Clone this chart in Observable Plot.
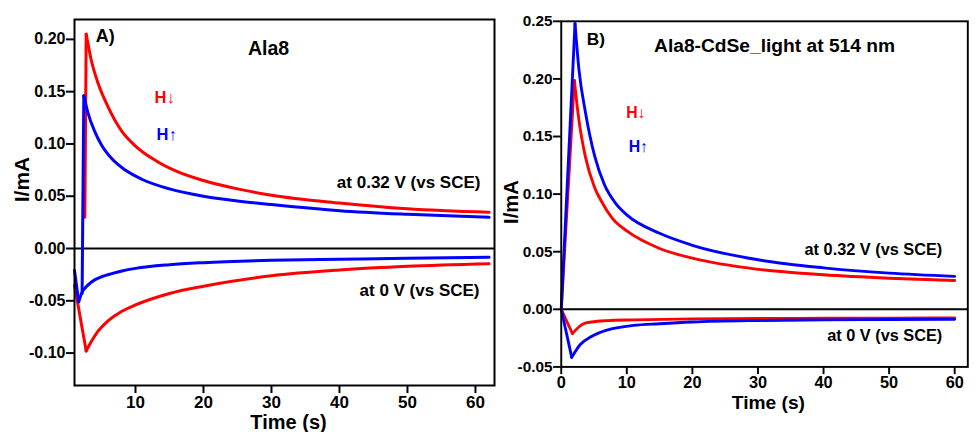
<!DOCTYPE html>
<html><head><meta charset="utf-8">
<script src="https://cdn.jsdelivr.net/npm/d3@7"></script>
<script src="https://cdn.jsdelivr.net/npm/@observablehq/plot@0.6"></script>
<style>
html,body{margin:0;padding:0;background:#fff;overflow:hidden;width:980px;height:432px;}
#wrap{position:relative;width:980px;height:432px;overflow:hidden;}
.panel{position:absolute;top:0;}
</style></head>
<body><div id="wrap"><div class="panel" id="pa" style="left:0"></div><div class="panel" id="pb" style="left:500px"></div></div>
<script>
// ---------- Panel A data (Ala8) ----------
const timeA_red032  = [2.55, 2.75, 3.5, 4.5, 6, 8, 10, 13, 16, 20, 25, 30, 40, 50, 62];
const currA_red032  = [0.03, 0.205, 0.180, 0.158, 0.135, 0.112, 0.098, 0.084, 0.074, 0.065, 0.057, 0.051, 0.0435, 0.038, 0.0346];
const timeA_blue032 = [2.15, 2.4, 3.0, 4, 5, 6.5, 8.5, 11, 15, 20, 25, 30, 40, 50, 62];
const currA_blue032 = [-0.043, 0.146, 0.130, 0.112, 0.099, 0.086, 0.075, 0.066, 0.057, 0.050, 0.0455, 0.042, 0.0362, 0.0327, 0.0298];
const timeA_red0    = [1.03, 2.75, 3.5, 4.5, 6, 8, 10, 15, 20, 30, 40, 50, 62];
const currA_red0    = [-0.035, -0.098, -0.089, -0.079, -0.069, -0.060, -0.054, -0.043, -0.036, -0.026, -0.0205, -0.017, -0.0145];
const timeA_blue0   = [1.03, 1.65, 2.06, 3, 4, 5, 6.5, 8, 10, 15, 20, 30, 40, 50, 62];
const currA_blue0   = [-0.021, -0.051, -0.043, -0.035, -0.030, -0.027, -0.024, -0.0215, -0.019, -0.0155, -0.0135, -0.0113, -0.0103, -0.0092, -0.0084];
const xTicksA = [10, 20, 30, 40, 50, 60];
const yTicksA = [-0.10, -0.05, 0.00, 0.05, 0.10, 0.15, 0.20];

// ---------- Panel B data (Ala8-CdSe, light at 514 nm) ----------
const timeB_blue032 = [0, 2.1, 2.7, 3.66, 5.1, 6.6, 8.3, 10, 15, 20, 30, 40, 50, 60];
const currB_blue032 = [0, 0.248, 0.208, 0.172, 0.133, 0.108, 0.092, 0.082, 0.066, 0.0556, 0.043, 0.036, 0.0314, 0.0286];
const timeB_red032  = [0, 2.0, 2.7, 3.66, 5.1, 6.1, 7.8, 10, 15, 20, 30, 40, 50, 60];
const currB_red032  = [0, 0.1987, 0.164, 0.133, 0.1056, 0.094, 0.079, 0.068, 0.0528, 0.0444, 0.0347, 0.030, 0.027, 0.025];
const timeB_red0    = [0, 1.7, 3.4, 4.6, 7, 11, 20, 30, 40, 50, 60];
const currB_red0    = [0, -0.021, -0.0125, -0.011, -0.0098, -0.0092, -0.0083, -0.008, -0.0078, -0.0076, -0.0075];
const timeB_blue0   = [0, 1.6, 2.9, 4.6, 7, 11, 15, 20, 30, 40, 50, 60];
const currB_blue0   = [0, -0.0417, -0.0306, -0.0236, -0.018, -0.014, -0.0125, -0.011, -0.0097, -0.0092, -0.0088, -0.0086];
const xTicksB = [0, 10, 20, 30, 40, 50, 60];
const yTicksB = [-0.05, 0.00, 0.05, 0.10, 0.15, 0.20, 0.25];

// ---------- Texts ----------
const xLabel = "Time (s)";
const yLabel = "I/mA";
const textsA = ["A)", "Ala8", "H↓", "H↑", "at 0.32 V (vs SCE)", "at 0 V (vs SCE)"];
const textsB = ["B)", "Ala8-CdSe_light at 514 nm", "H↓", "H↑", "at 0.32 V (vs SCE)", "at 0 V (vs SCE)"];

// ---------- Styling / layout ----------
const FONT = "'Liberation Sans',Arial,sans-serif";
const RED = "#ff0000", BLUE = "#0000ff";
// annotation anchors, in data coordinates [t, I], with anchor, color, size
const layoutA = [
  {pos: [4.16, 0.203], anchor: "start", color: "#000", size: 18},
  {pos: [29.56, 0.1907], anchor: "middle", color: "#000", size: 19.5},
  {pos: [12.8, 0.1442], anchor: "start", color: RED, size: 16.5},
  {pos: [13.09, 0.1087], anchor: "start", color: BLUE, size: 16.5},
  {pos: [60.74, 0.0628], anchor: "end", color: "#000", size: 17},
  {pos: [60.6, -0.0401], anchor: "end", color: "#000", size: 17}
];
const layoutB = [
  {pos: [3.9, 0.234], anchor: "start", color: "#000", size: 18},
  {pos: [32.53, 0.2283], anchor: "middle", color: "#000", size: 20},
  {pos: [9.91, 0.1708], anchor: "start", color: RED, size: 16.5},
  {pos: [10.3, 0.141], anchor: "start", color: BLUE, size: 16.5},
  {pos: [58.1, 0.0514], anchor: "end", color: "#000", size: 17},
  {pos: [58.1, -0.0228], anchor: "end", color: "#000", size: 17}
];

function lineMarks(t, v, color) {
  const rows = t.map((tt, i) => ({t: tt, I: v[i]}));
  let k = 0;
  rows.forEach((r, i) => { if (Math.abs(r.I) > Math.abs(rows[k].I)) k = i; });
  return [
    Plot.line(rows.slice(0, k + 1), {x: "t", y: "I", stroke: color, strokeWidth: 3, curve: "linear"}),
    Plot.line(rows.slice(k), {x: "t", y: "I", stroke: color, strokeWidth: 3, curve: "monotone-x"})
  ];
}

function panel(cfg) {
  const ann = cfg.texts.map((s, i) => ({s, t: cfg.layout[i].pos[0], I: cfg.layout[i].pos[1],
    anchor: cfg.layout[i].anchor, color: cfg.layout[i].color, size: cfg.layout[i].size}));
  const textMarks = ["start", "middle", "end"].map(a =>
    Plot.text(ann.filter(d => d.anchor === a), {x: "t", y: "I", text: "s", fill: "color",
      fontSize: "size", textAnchor: a, lineAnchor: "middle", fontWeight: "bold"}));
  return Plot.plot({
    width: cfg.width, height: 432,
    marginLeft: cfg.ml, marginRight: cfg.mr, marginTop: cfg.mt, marginBottom: cfg.mb,
    style: {fontFamily: FONT, fontWeight: "bold", color: "#000", background: "transparent"},
    x: {domain: cfg.xDomain},
    y: {domain: cfg.yDomain},
    marks: [
      Plot.ruleY([0], {stroke: "#000", strokeWidth: 2}),
      ...cfg.series.flatMap(s => lineMarks(s[0], s[1], s[2])),
      Plot.frame({stroke: "#000", strokeWidth: 2}),
      Plot.axisX({ticks: cfg.xTicks, tickSize: 8, tickPadding: 2, strokeWidth: 2, fontSize: 17,
        fontWeight: "bold", label: null, tickFormat: d => String(d)}),
      Plot.axisY({ticks: cfg.yTicks, tickSize: 8, tickPadding: 1, strokeWidth: 2, fontSize: 16,
        fontWeight: "bold", label: null, tickFormat: d => d.toFixed(2)}),
      Plot.text([xLabel], {frameAnchor: "bottom", text: d => d, dx: cfg.xlab[0], dy: cfg.xlab[1],
        fontSize: 20, fontWeight: "bold", textAnchor: "middle", lineAnchor: "middle"}),
      Plot.text([yLabel], {frameAnchor: "left", text: d => d, rotate: -90, dx: cfg.ylab[0], dy: cfg.ylab[1],
        fontSize: 21, fontWeight: "bold", textAnchor: "middle", lineAnchor: "middle"}),
      ...textMarks
    ]
  });
}

document.getElementById("pa").appendChild(panel({
  width: 500, ml: 74, mr: 6, mt: 19, mb: 47,
  xDomain: [1.03, 62.8], yDomain: [-0.131, 0.219],
  xTicks: xTicksA, yTicks: yTicksA,
  series: [[timeA_red032, currA_red032, RED], [timeA_blue032, currA_blue032, BLUE],
           [timeA_red0, currA_red0, RED], [timeA_blue0, currA_blue0, BLUE]],
  texts: textsA, layout: layoutA,
  xlab: [4, 37], ylab: [-52.5, -23]
}));

document.getElementById("pb").appendChild(panel({
  width: 500, ml: 63.3, mr: 13.2, mt: 21.7, mb: 50.3,
  xDomain: [0, 62], yDomain: [-0.05, 0.25],
  xTicks: xTicksB, yTicks: yTicksB,
  series: [[timeB_red032, currB_red032, RED], [timeB_blue032, currB_blue032, BLUE],
           [timeB_red0, currB_red0, RED], [timeB_blue0, currB_blue0, BLUE]],
  texts: textsB, layout: layoutB,
  xlab: [4, 37.3], ylab: [-51.6, 8.3]
}));
</script>
</body></html>
